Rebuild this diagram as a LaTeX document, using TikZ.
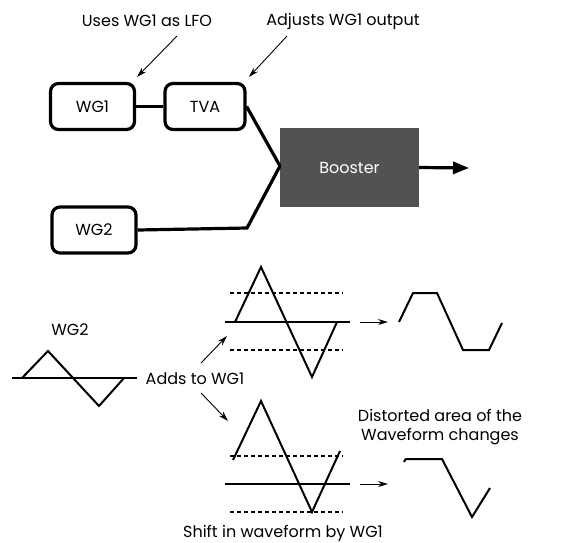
\documentclass[tikz,border=0pt]{standalone}
\usepackage{fontspec}
\setmainfont{Poppins}
\usetikzlibrary{arrows.meta}

\begin{document}
\begin{tikzpicture}[x=1pt,y=-1pt,font=\fontsize{16}{19}\selectfont,
  unitbox/.style={draw,line width=3.2pt,rounded corners=8pt,minimum width=84pt,minimum height=46pt,inner sep=0pt},
  wire/.style={line width=3.2pt},
  note/.style={-{Stealth[length=10pt,width=6pt]},line width=0.9pt},
  wave/.style={line width=2pt,line join=miter},
  axis/.style={line width=1.2pt},
  level/.style={line width=1.2pt,dash pattern=on 4pt off 3pt}]
  \useasboundingbox (0,0) rectangle (577,542);
  % block diagram
  \node[unitbox] (wg1) at (92.5,106.5) {WG1};
  \node[unitbox,minimum width=80pt] (tva) at (205,106.5) {TVA};
  \node[unitbox] (wg2) at (94,230) {WG2};
  \node[fill=black!68,text=white,minimum width=139pt,minimum height=79pt] (boost) at (349.5,167.5) {Booster};
  \draw[wire] (wg1) -- (tva);
  \coordinate (mix) at (280,166);
  \coordinate (bend) at (247,228);
  \draw[wire,line join=miter] (tva.east) -- (mix);
  \draw[wire,line join=miter] (wg2.east) -- (bend) -- (mix);
  \coordinate (out) at (469,168);
  \draw[wire,-{Triangle[length=16pt,width=12pt]}] (boost.east) -- (out);
  \node (lfo) at (147,21) {Uses WG1 as LFO};
  \node (adj) at (343,21) {Adjusts WG1 output};
  \coordinate (lfoend) at (137,77);
  \coordinate (adjend) at (249,77);
  \draw[note] (177,36) -- (lfoend);
  \draw[note] (287,36) -- (adjend);
  % WG2 waveform
  \node (wg2lab) at (70,330) {WG2};
  \draw[axis] (12,378) -- (137,378);
  \draw[wave] (22,378) -- (48,351) -- (99,406) -- (124,378);
  \node (adds) at (195,379) {Adds to WG1};
  \coordinate (upin) at (227,336);
  \coordinate (lowin) at (228,421);
  \draw[note] (201,363) -- (upin);
  \draw[note] (201,393) -- (lowin);
  % upper sum
  \foreach \y in {293,350}{ \draw[level] (230,\y) -- (343,\y); }
  \draw[axis] (225,322) -- (350,322);
  \draw[wave] (235,322) -- (261,267) -- (312,377) -- (337,322);
  \coordinate (upres) at (388,322);
  \draw[note] (360,322) -- (upres);
  \draw[wave] (399,322) -- (413,293) -- (437,293) -- (463,350) -- (489,350) -- (502,323);
  % lower sum
  \foreach \y in {456,512}{ \draw[level] (230,\y) -- (343,\y); }
  \draw[axis] (225,484) -- (350,484);
  \draw[wave] (233,460) -- (261,401) -- (312,512) -- (340,451);
  \coordinate (lowres) at (388,484);
  \draw[note] (360,484) -- (lowres);
  \draw[wave] (404,462) .. controls (405,459) .. (409,459) -- (442,459) -- (472,517) -- (490,488);
  \node[align=center] (dist) at (440,427) {Distorted area of the\\Waveform changes};
  \node (shift) at (283,533) {Shift in waveform by WG1};
\end{tikzpicture}
\end{document}
